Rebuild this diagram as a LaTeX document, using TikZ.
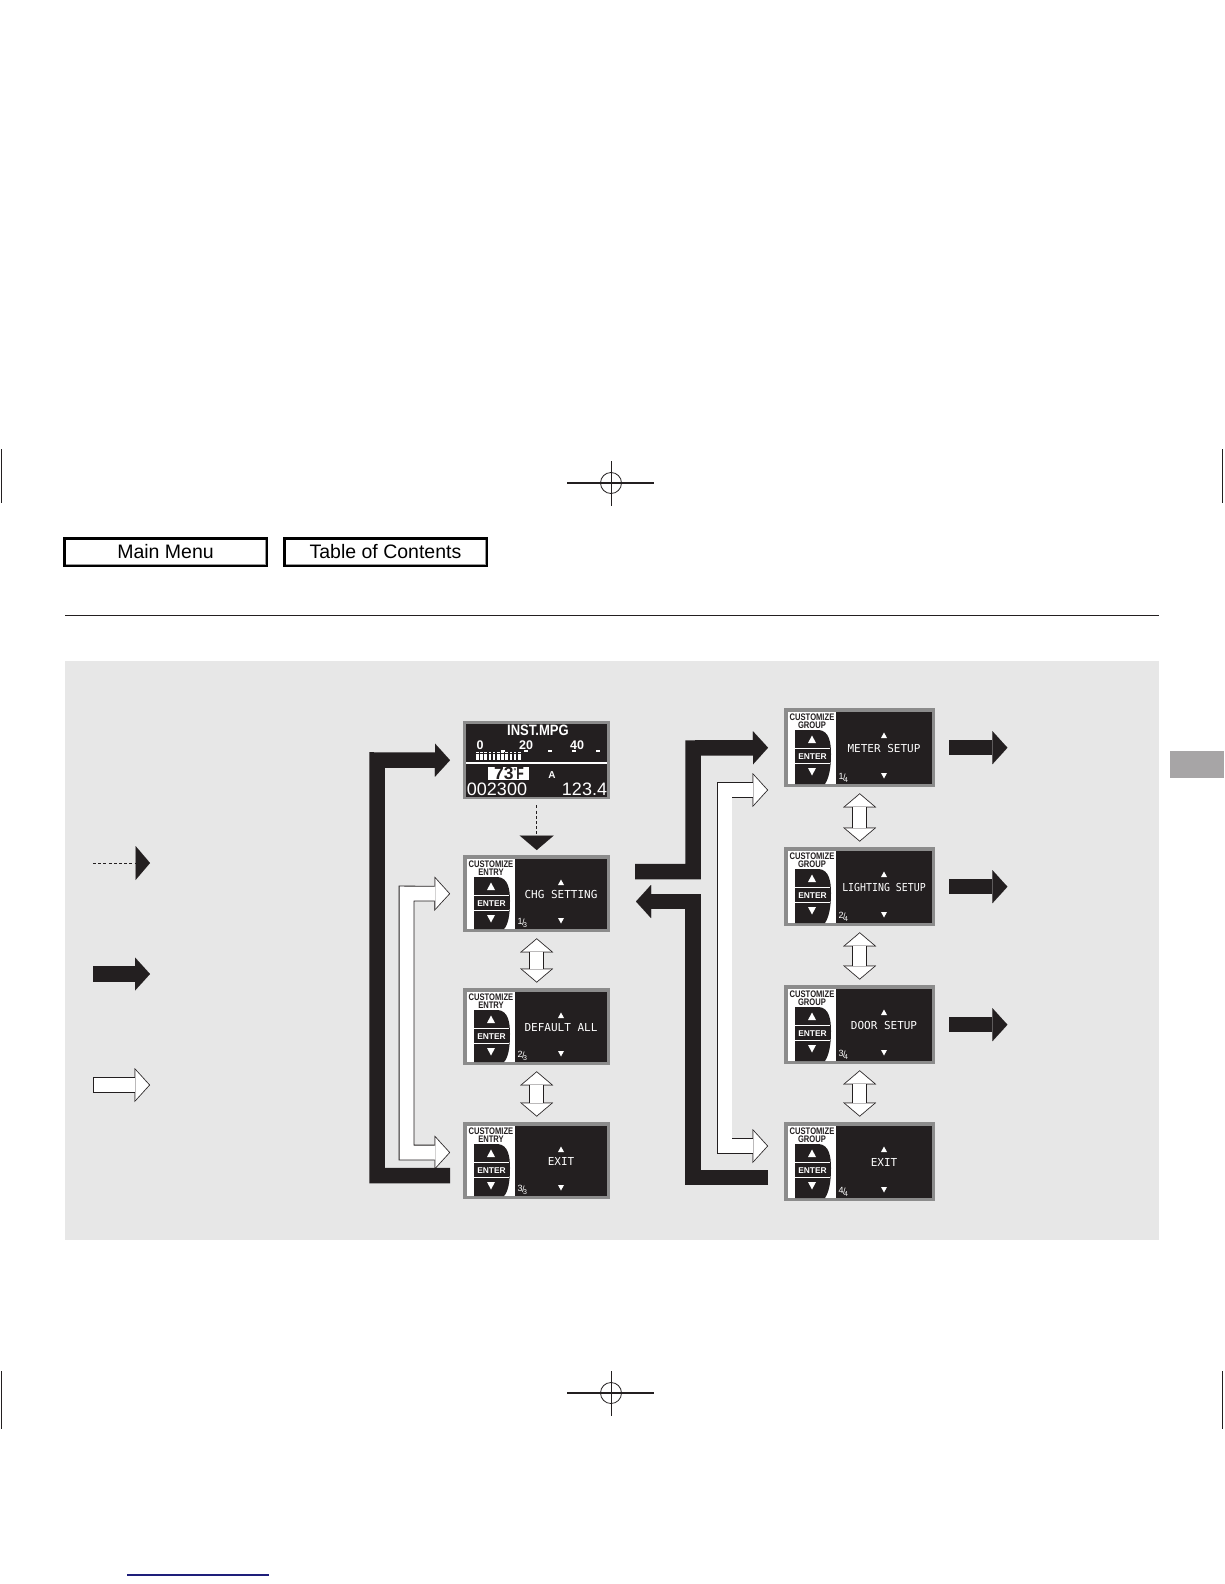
\documentclass[tikz,border=0pt]{standalone}
\usepackage{fontspec}
\setmainfont{Liberation Sans}
\newfontfamily\lcdfont{DejaVu Sans Mono}
\usetikzlibrary{arrows.meta,calc}
\definecolor{ink}{HTML}{231F20}
\definecolor{panel}{HTML}{E7E7E7}
\definecolor{bezel}{HTML}{8C8C8C}
\definecolor{tabgray}{HTML}{A7A5A6}
\definecolor{navyline}{HTML}{1E1E7A}
\definecolor{btnshade}{HTML}{9A9A9A}
\newcommand{\fsz}[1]{\fontsize{#1}{#1}\selectfont}
\tikzset{
  HO/.tip={Triangle[length=15.5pt,width=34pt,line width=0.01pt]},
  HI/.tip={Triangle[length=13.6pt,width=29.9pt,line width=0.01pt]},
  VO/.tip={Triangle[length=14pt,width=33pt,line width=0.01pt]},
  VI/.tip={Triangle[length=12.15pt,width=28.6pt,line width=0.01pt]},
  BT/.tip={Triangle[length=15pt,width=33pt,line width=0.01pt]},
  DT/.tip={Triangle[length=14.5pt,width=34pt,line width=0.01pt]},
}
% name, x, y, w, h, label, text, numerator, denominator
\newcommand{\menuscreen}[9]{%
  \node[scrbox, minimum width=#4pt, minimum height=#5pt] (#1) at (#2,#3) {};
  \begin{scope}[shift={(#2,#3)}]
    \pgfmathsetmacro\scrw{#4}\pgfmathsetmacro\scrh{#5}
    \pgfmathsetmacro\scrcx{(52+#4-3)/2}
    \fill[ink] (3.5,3.5) rectangle (\scrw-3,\scrh-3);
    \fill[white] (3.5,3.5) rectangle (52,\scrh-3);
    \node[capsfont, anchor=base] at (28,12) {\scalebox{0.8}[1]{CUSTOMIZE}};
    \node[capsfont, anchor=base] at (28,20.3) {\scalebox{0.8}[1]{#6}};
    \fill[ink] (11,22) -- (35,22) .. controls (45,23) and (47,34) .. (47,46)
      .. controls (47,60) and (45,70) .. (41,\scrh-3) -- (11,\scrh-3) -- cycle;
    \fill[white] (24,35) -- (32,35) -- (28,27.5) -- cycle;
    \draw[white, line width=1pt] (11,40.5) -- (45.5,40.5);
    \node[enterfont, anchor=base] at (28.5,51) {ENTER};
    \draw[white, line width=1pt] (11,55.5) -- (45.5,55.5);
    \fill[white] (24,60) -- (32,60) -- (28,67.5) -- cycle;
    \node[anchor=base west, inner sep=0pt, text=white, font=\fsz{9}] at (54.5,\scrh-8)
      {#8\kern-0.5pt\raisebox{-1pt}{/}\kern-1.5pt\raisebox{-3pt}{\fsz{7}#9}};
    \fill[white] (\scrcx-3,30) -- (\scrcx+3,30) -- (\scrcx,24.5) -- cycle;
    \node[lcd, anchor=base] at (\scrcx,\scrh/2+4.5) {#7};
    \fill[white] (\scrcx-3,\scrh-14) -- (\scrcx+3,\scrh-14) -- (\scrcx,\scrh-8.5) -- cycle;
  \end{scope}}

\begin{document}
\begin{tikzpicture}[x=1pt,y=-1pt,
  scrbox/.style={anchor=north west, inner sep=0pt, fill=bezel, draw=none},
  capsfont/.style={inner sep=0pt, text=ink, font=\bfseries\fsz{9.5}},
  enterfont/.style={inner sep=0pt, text=white, font=\bfseries\fsz{8.4}},
  lcd/.style={inner sep=0pt, text=white, font=\lcdfont\fsz{11}},
  instbold/.style={anchor=base, inner sep=0pt, text=white, font=\bfseries\fsz{#1}},
  instreg/.style={anchor=base, inner sep=0pt, text=white, font=\fsz{#1}},
  button/.style={draw=black, line width=2.7pt, fill=white, minimum width=202pt, minimum height=27.3pt, inner sep=0pt, font=\fsz{19.5}},
  blackfat/.style={draw=ink, line width=15.5pt, line join=miter, -BT},
  hout/.style={draw=ink, line width=15.6pt, line join=miter},
  hin/.style={draw=white, line width=14pt, line join=miter, shorten <=1.08pt, shorten >=1.08pt},
  vout/.style={draw=ink, line width=15pt, VO-VO},
  vin/.style={draw=white, line width=13.4pt, shorten <=1.05pt, shorten >=1.05pt, VI-VI},
  dashedarrow/.style={draw=ink, line width=0.8pt, dash pattern=on 3pt off 2.2pt, -DT},
  cropmark/.style={draw=ink, line width=0.8pt}
]
\useasboundingbox (0,0) rectangle (1224,1584);
\fill[white] (0,0) rectangle (1224,1584);

% crop marks
\draw[cropmark] (1.5,449) -- (1.5,503);
\draw[cropmark] (1222.5,449) -- (1222.5,503);
\draw[cropmark] (1.5,1371) -- (1.5,1429);
\draw[cropmark] (1222.5,1371) -- (1222.5,1429);
\draw[ink, line width=1.3pt] (567,483) -- (654,483);
\draw[ink, line width=0.7pt] (611,461) -- (611,506);
\draw[ink, line width=0.8pt] (611,483) circle (10.5);
\draw[ink, line width=1.3pt] (567,1393) -- (654,1393);
\draw[ink, line width=0.7pt] (611,1371) -- (611,1416);
\draw[ink, line width=0.8pt] (611,1393) circle (10.5);

% buttons
\node[button] (mainmenu) at (165.5,552) {Main Menu};
\node[button] (toc) at (385.5,552) {Table of Contents};
\foreach \b in {mainmenu,toc}{
  \draw[btnshade, line width=1.4pt] ($(\b.north east)+(-2.4,2.5)$) -- ($(\b.south east)+(-2.4,-2.4)$) -- ($(\b.south west)+(2.5,-2.4)$);
}

% rule, panel, tab, blue line
\draw[ink, line width=1pt] (65,615) -- (1159,615);
\fill[panel] (65,661) rectangle (1159,1240);
\fill[tabgray] (1170,751) rectangle (1224,778);
\draw[navyline, line width=1.5pt] (127,1575) -- (269,1575);

% INST.MPG screen
\node[scrbox, minimum width=147pt, minimum height=78pt] (inst) at (463,721) {};
\begin{scope}[shift={(463,721)}]
  \fill[ink] (3.3,3) rectangle (144,76);
  \node[instbold=15] at (75,14) {\scalebox{0.87}[1]{INST.MPG}};
  \node[instbold=12.5] at (17,28) {0};
  \node[instbold=12.5] at (63,28) {20};
  \node[instbold=12.5] at (114,28) {40};
  \foreach \i in {0,...,10}{
    \fill[white] ({13+4.2*\i},33.3) rectangle ({15.6+4.2*\i},39);
    \fill[white] ({13+4.2*\i},31) rectangle ({15.6+4.2*\i},32.3);
  }
  \foreach \t in {40,63,87,111,135}{
    \fill[white] (\t-1.6,29) rectangle (\t+1.6,30.5);
  }
  \draw[white, line width=1.3pt] (3.3,42) -- (144,42);
  \fill[white] (25,46) rectangle (66,59);
  \node[anchor=base, inner sep=0pt, text=ink, font=\bfseries\fsz{17.5}] at (46,58.8)
    {73\raisebox{6pt}{\fsz{7}°}\scalebox{0.7}[1]{F}};
  \node[instbold=10] at (89,57) {A};
  \node[instreg=18] at (34,74) {002300};
  \node[instreg=18] at (121.5,74) {123.4};
\end{scope}

% left column
\menuscreen{chg}{463}{855}{147}{77}{ENTRY}{CHG SETTING}{1}{3}
\menuscreen{defall}{463}{988}{147}{77}{ENTRY}{DEFAULT ALL}{2}{3}
\menuscreen{lexit}{463}{1122}{147}{77}{ENTRY}{EXIT}{3}{3}

% right column
\menuscreen{meter}{784}{708}{151}{79}{GROUP}{METER SETUP}{1}{4}
\menuscreen{lighting}{784}{847}{151}{79}{GROUP}{\scalebox{0.9}[1]{LIGHTING SETUP}}{2}{4}
\menuscreen{door}{784}{985}{151}{79}{GROUP}{DOOR SETUP}{3}{4}
\menuscreen{rexit}{784}{1122}{151}{79}{GROUP}{EXIT}{4}{4}

% dashed arrow INST -> CHG SETTING
\draw[dashedarrow] ([yshift=-6pt]inst.south) -- ([yshift=5pt]chg.north);

% vertical hollow double arrows
\foreach \a/\b in {chg/defall,defall/lexit,meter/lighting,lighting/door,door/rexit}{
  \draw[vout] ([yshift=-6pt]\a.south) -- ([yshift=5.5pt]\b.north);
  \draw[vin] ([yshift=-6pt]\a.south) -- ([yshift=5.5pt]\b.north);
}

% left black bracket: EXIT -> INST.MPG
\coordinate (lbA) at (450,1175.5);
\coordinate (lbB) at (377,1175.5);
\coordinate (lbC) at (377,760);
\draw[blackfat] (lbA) -- (lbB) -- (lbC) -- ([xshift=-13pt]inst.west);

% left hollow bracket: CHG SETTING <-> EXIT
\coordinate (lwA) at (450,1152.5);
\coordinate (lwB) at (406.5,1152.5);
\coordinate (lwC) at (406.5,893.5);
\draw[hout, HO-HO] (lwA) -- (lwB) -- (lwC) -- ([xshift=-13pt]chg.west);
\draw[hin, HI-HI] (lwA) -- (lwB) -- (lwC) -- ([xshift=-13pt]chg.west);

% right black: CHG SETTING -> METER SETUP
\coordinate (rbA) at (635,871.5);
\coordinate (rbB) at (693,871.5);
\coordinate (rbC) at (693,748);
\draw[blackfat] (rbA) -- (rbB) -- (rbC) -- ([xshift=-16pt]meter.west);

% right black: EXIT -> CHG SETTING
\coordinate (rcA) at (768,1177.5);
\coordinate (rcB) at (693,1177.5);
\coordinate (rcC) at (693,901.5);
\coordinate (rcD) at (636,901.5);
\draw[blackfat] (rcA) -- (rcB) -- (rcC) -- (rcD);

% right hollow bracket: METER SETUP <-> EXIT
\coordinate (rwA) at (768,1146);
\coordinate (rwB) at (724.5,1146);
\coordinate (rwC) at (724.5,790);
\coordinate (rwD) at (768,790);
\draw[hout, HO-HO] (rwA) -- (rwB) -- (rwC) -- (rwD);
\draw[hin, HI-HI] (rwA) -- (rwB) -- (rwC) -- (rwD);

% outgoing black arrows
\foreach \s in {meter,lighting,door}{
  \coordinate (\s-out) at ($(\s.east)+(72,0)$);
  \draw[blackfat] ([xshift=14pt]\s.east) -- (\s-out);
}

% legend
\coordinate (lgA1) at (93,863);  \coordinate (lgA2) at (150,863);
\coordinate (lgB1) at (93,974);  \coordinate (lgB2) at (150,974);
\coordinate (lgC1) at (93,1085); \coordinate (lgC2) at (150,1085);
\draw[dashedarrow] (lgA1) -- (lgA2);
\draw[blackfat] (lgB1) -- (lgB2);
\draw[hout, -HO] (lgC1) -- (lgC2);
\draw[hin, -HI] (lgC1) -- (lgC2);
\end{tikzpicture}
\end{document}
